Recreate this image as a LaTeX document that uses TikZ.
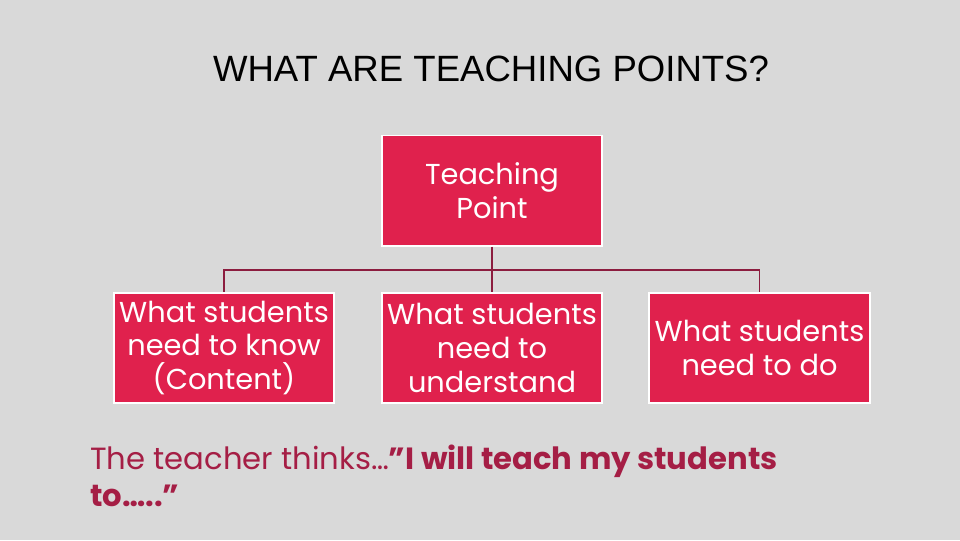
\documentclass[tikz,border=0pt]{standalone}
\usepackage{fontspec}
\setmainfont{Poppins}
\newfontfamily\titlefont{Liberation Sans}
\usepackage{tikz}

\definecolor{slidebg}{HTML}{D9D9D9}
\definecolor{pointred}{HTML}{E0214D}
\definecolor{linkred}{HTML}{8C1D3F}
\definecolor{thinkred}{HTML}{A51E45}

\tikzset{
    pointbox/.style={draw=white,line width=1.4pt,fill=pointred,text=white,
        minimum width=5.5cm,minimum height=2.75cm,align=center,
        font=\fontsize{20.5}{24}\selectfont},
    link/.style={draw=linkred,line width=1.4pt}
}

\begin{document}
\begin{tikzpicture}[x=0.025cm,y=-0.025cm]
    % Slide background
    \fill[slidebg] (0,0) rectangle (960,540);

    % Title
    \node[anchor=base] (title) at (491,81) {\titlefont\fontsize{26}{30}\selectfont WHAT ARE TEACHING POINTS?};

    % Boxes
    \node[pointbox] (T0) at (492,190.5) {Teaching\\Point};
    \node[pointbox] (B1) at (224,348) {What students\\need to know\\(Content)};
    \node[pointbox] (B2) at (492,348) {What students\\need to\\understand};
    \node[pointbox] (B3) at (759.5,348) {What students\\need to do};

    % Connectors
    \coordinate (J) at (492,270);
    \draw[link] (T0.south) -- (J);
    \draw[link] (J) -| (B1.north);
    \draw[link] (J) -- (B2.north);
    \draw[link] (J) -| (B3.north);

    % What the teacher thinks
    \node[anchor=north west,align=left,text=thinkred,inner sep=0pt,
        font=\fontsize{21.8}{26.3}\selectfont] (think) at (90,445)
        {The teacher thinks\dots\textbf{”I will teach my students}\\\textbf{to\dots..”}};
\end{tikzpicture}
\end{document}
